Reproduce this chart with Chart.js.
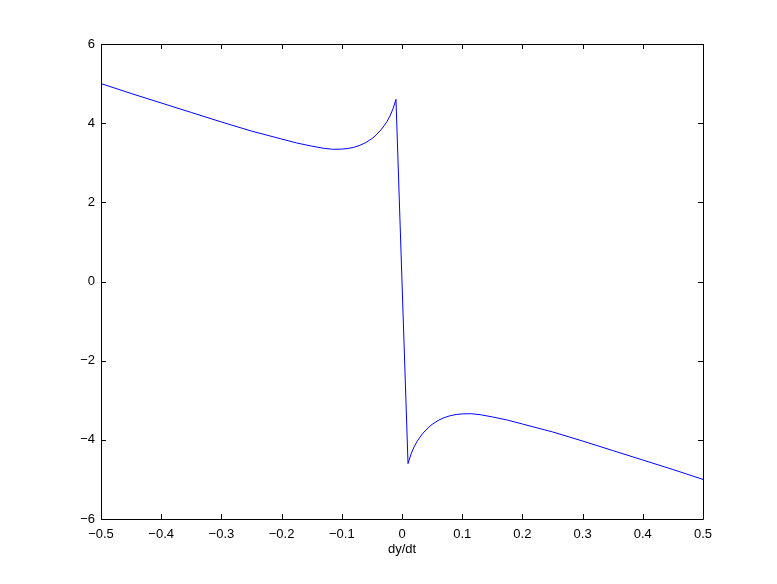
<!DOCTYPE html>
<html>
<head>
<meta charset="utf-8">
<script src="https://cdn.jsdelivr.net/npm/chart.js@4"></script>
<style>
  html, body { margin: 0; padding: 0; background: #fff; }
  #wrap { width: 777px; height: 584px; }
</style>
</head>
<body>
<div id="wrap"><canvas id="myChart" width="777" height="584"></canvas></div>
<script>
// values
let dydt = [-0.5, -0.45, -0.4, -0.35, -0.3, -0.25, -0.2, -0.175, -0.15, -0.13, -0.115, -0.1, -0.09, -0.08, -0.07, -0.06, -0.05, -0.045, -0.04, -0.035, -0.03, -0.025, -0.02, -0.015, -0.01,
            0.01, 0.015, 0.02, 0.025, 0.03, 0.035, 0.04, 0.045, 0.05, 0.06, 0.07, 0.08, 0.09, 0.1, 0.115, 0.13, 0.15, 0.175, 0.2, 0.25, 0.3, 0.35, 0.4, 0.45, 0.5];
let yValues = [5.00, 4.75, 4.51, 4.27, 4.03, 3.80, 3.60, 3.50, 3.42, 3.365, 3.34, 3.345, 3.36, 3.39, 3.44, 3.51, 3.61, 3.67, 3.75, 3.83, 3.93, 4.04, 4.18, 4.36, 4.60,
               -4.60, -4.36, -4.18, -4.04, -3.93, -3.83, -3.75, -3.67, -3.61, -3.51, -3.44, -3.39, -3.36, -3.345, -3.34, -3.365, -3.42, -3.50, -3.60, -3.80, -4.03, -4.27, -4.51, -4.75, -5.00];
let xTicks = [-0.5, -0.4, -0.3, -0.2, -0.1, 0, 0.1, 0.2, 0.3, 0.4, 0.5];
let yTicks = [-6, -4, -2, 0, 2, 4, 6];

let points = dydt.map((x, i) => ({ x: x, y: yValues[i] }));

function fmt(v) {
  let s = String(Number(v.toFixed(1)));
  return s.replace('-', '\u2212');
}

// matlab style box with inward ticks on all four sides
const boxTicks = {
  id: 'boxTicks',
  afterDraw(chart) {
    const ctx = chart.ctx;
    const a = chart.chartArea;
    const xs = chart.scales.x, ys = chart.scales.y;
    const len = 5;
    ctx.save();
    ctx.strokeStyle = '#000';
    ctx.lineWidth = 1;
    ctx.beginPath();
    ctx.rect(Math.round(a.left) + 0.5, Math.round(a.top) + 0.5, Math.round(a.right - a.left), Math.round(a.bottom - a.top));
    xTicks.forEach(v => {
      let px = Math.round(xs.getPixelForValue(v)) + 0.5;
      ctx.moveTo(px, a.bottom); ctx.lineTo(px, a.bottom - len);
      ctx.moveTo(px, a.top); ctx.lineTo(px, a.top + len);
    });
    yTicks.forEach(v => {
      let py = Math.round(ys.getPixelForValue(v)) + 0.5;
      ctx.moveTo(a.left, py); ctx.lineTo(a.left + len, py);
      ctx.moveTo(a.right, py); ctx.lineTo(a.right - len, py);
    });
    ctx.stroke();
    ctx.restore();
  }
};

const font = { family: "'Liberation Sans', Arial, Helvetica, sans-serif", size: 13 };

new Chart("myChart", {
  type: "line",
  data: {
    datasets: [
      {
        data: points,
        borderColor: "#0000ff",
        borderWidth: 1,
        pointRadius: 0,
        tension: 0,
        fill: false,
      },
    ],
  },
  options: {
    responsive: false,
    animation: false,
    devicePixelRatio: 1,
    layout: { padding: { left: 0, right: 74, top: 44, bottom: 0 } },
    plugins: { legend: { display: false }, tooltip: { enabled: false } },
    scales: {
      x: {
        type: "linear",
        min: -0.5,
        max: 0.5,
        afterFit: (s) => { s.height = 65; },
        afterBuildTicks: (s) => { s.ticks = xTicks.map(v => ({ value: v })); },
        grid: { display: false, drawTicks: false },
        border: { display: false },
        ticks: { color: "#000", font: font, padding: 8, maxRotation: 0, autoSkip: false, callback: fmt },
        title: { display: true, text: "dy/dt", color: "#000", font: font, padding: { top: 0, bottom: 27 } },
      },
      y: {
        type: "linear",
        min: -6,
        max: 6,
        afterFit: (s) => { s.width = 101; },
        afterBuildTicks: (s) => { s.ticks = yTicks.map(v => ({ value: v })); },
        grid: { display: false, drawTicks: false },
        border: { display: false },
        ticks: { color: "#000", font: font, padding: 6, autoSkip: false, callback: fmt },
      },
    },
  },
  plugins: [boxTicks],
});
</script>
</body>
</html>
